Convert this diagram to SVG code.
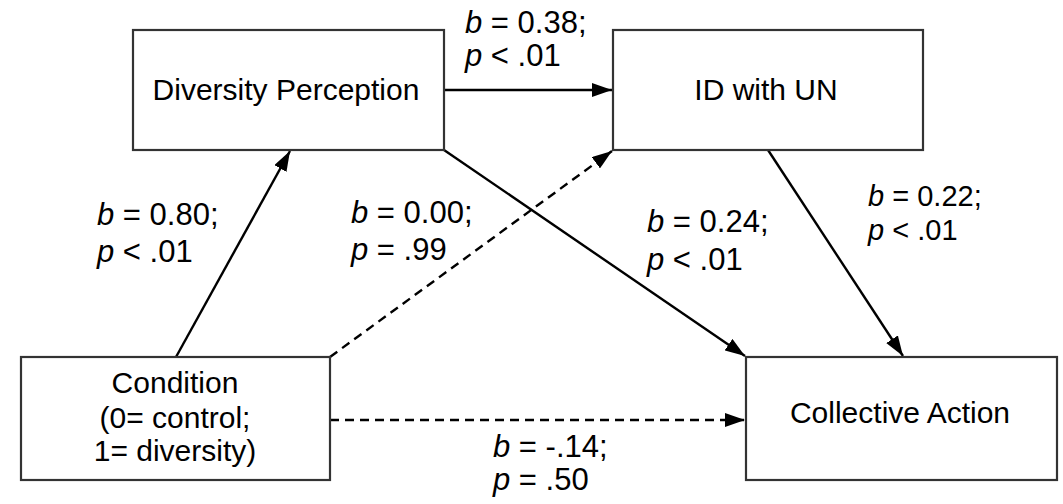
<svg xmlns="http://www.w3.org/2000/svg" width="1063" height="504" viewBox="0 0 1063 504">
<style>
.box{fill:#fff;stroke:#333;stroke-width:2.2}
.t{font-family:"Liberation Sans",Arial,sans-serif;font-size:30px;fill:#000}
.lab{font-family:"Liberation Sans",Arial,sans-serif;font-size:31px;fill:#000}
.sm{font-size:29px}
.i{font-style:italic}
.c{stroke:#000;stroke-width:2.4;fill:none}
.d{stroke-dasharray:9 6}
</style>
<defs>
<marker id="ah" viewBox="0 0 20 14" refX="20" refY="7" markerWidth="20" markerHeight="14" markerUnits="userSpaceOnUse" orient="auto">
<path d="M0,0 L20,7 L0,14 Z" fill="#000"/>
</marker>
</defs>
<rect width="1063" height="504" fill="#fff"/>
<g id="connectors">
<line class="c" x1="444" y1="90" x2="612" y2="90" marker-end="url(#ah)"/>
<line class="c" x1="176" y1="357" x2="290" y2="151" marker-end="url(#ah)"/>
<line class="c d" x1="330" y1="357" x2="612" y2="151" marker-end="url(#ah)"/>
<line class="c" x1="444" y1="150" x2="745" y2="356" marker-end="url(#ah)"/>
<line class="c" x1="768" y1="150" x2="903" y2="356" marker-end="url(#ah)"/>
<line class="c d" x1="330" y1="420" x2="745" y2="420" marker-end="url(#ah)"/>
</g>
<g id="n-diversity">
<rect class="box" x="133" y="30" width="311" height="120"/>
<text class="t" x="286" y="100" text-anchor="middle">Diversity Perception</text>
</g>
<g id="n-idun">
<rect class="box" x="613" y="30" width="310" height="120"/>
<text class="t" x="766" y="100" text-anchor="middle">ID with UN</text>
</g>
<g id="n-condition">
<rect class="box" x="21" y="357" width="309" height="123"/>
<text class="t" x="175" y="393" text-anchor="middle">Condition</text>
<text class="t" x="175" y="428" text-anchor="middle">(0= control;</text>
<text class="t" x="175" y="461" text-anchor="middle">1= diversity)</text>
</g>
<g id="n-collective">
<rect class="box" x="746" y="357" width="311" height="123"/>
<text class="t" x="900" y="423" text-anchor="middle">Collective Action</text>
</g>
<g id="labels">
<text class="lab" x="465" y="33"><tspan class="i">b</tspan> = 0.38;</text>
<text class="lab" x="465" y="66"><tspan class="i">p</tspan> &lt; .01</text>
<text class="lab" x="97" y="225"><tspan class="i">b</tspan> = 0.80;</text>
<text class="lab" x="97" y="262"><tspan class="i">p</tspan> &lt; .01</text>
<text class="lab" x="351" y="223"><tspan class="i">b</tspan> = 0.00;</text>
<text class="lab" x="351" y="260"><tspan class="i">p</tspan> = .99</text>
<text class="lab" x="647" y="232"><tspan class="i">b</tspan> = 0.24;</text>
<text class="lab" x="647" y="270"><tspan class="i">p</tspan> &lt; .01</text>
<text class="lab sm" x="868" y="206"><tspan class="i">b</tspan> = 0.22;</text>
<text class="lab sm" x="868" y="240"><tspan class="i">p</tspan> &lt; .01</text>
<text class="lab" x="493" y="457"><tspan class="i">b</tspan> = -.14;</text>
<text class="lab" x="493" y="490"><tspan class="i">p</tspan> = .50</text>
</g>
</svg>
